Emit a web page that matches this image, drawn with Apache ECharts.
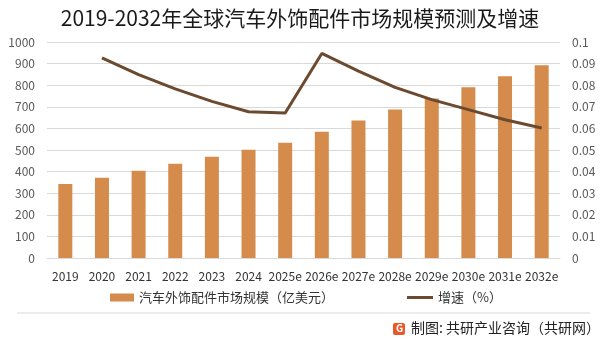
<!DOCTYPE html>
<html><head><meta charset="utf-8">
<script src="https://cdn.jsdelivr.net/npm/echarts@6/dist/echarts.min.js"></script>
<style>html,body{margin:0;padding:0;background:#fff}#c{width:600px;height:347px}</style>
</head><body><div id="c"></div>
<script>
const categories = ['2019','2020','2021','2022','2023','2024','2025e','2026e','2027e','2028e','2029e','2030e','2031e','2032e'];
const marketSize = [343, 371, 404, 436, 469, 501, 534, 585, 636, 687, 738, 790, 841, 892];
const growthRate = [null, 0.0927, 0.0849, 0.0783, 0.0725, 0.0677, 0.0671, 0.0947, 0.0865, 0.0790, 0.0733, 0.0687, 0.0640, 0.0602];
const barName = '汽车外饰配件市场规模（亿美元）';
const lineName = '增速（%）';
const titleText = '2019-2032年全球汽车外饰配件市场规模预测及增速';
const sourceText = '制图: 共研产业咨询（共研网）';

const FONT = '"Noto Sans CJK SC", "Noto Sans", sans-serif';
const chart = echarts.init(document.getElementById('c'), null, {renderer: 'canvas'});
const legendText = {fontFamily: FONT, fontSize: 13, color: '#333'};
chart.setOption({
  animation: false,
  backgroundColor: '#fff',
  title: {
    text: titleText, left: 'center', top: 3,
    textStyle: {fontFamily: FONT, fontSize: 21, fontWeight: 'normal', color: '#1a1a1a'}
  },
  legend: [{
    left: 110, top: 291, padding: 0, itemWidth: 24, itemHeight: 8, itemGap: 0,
    textStyle: legendText,
    data: [{name: barName, icon: 'rect'}]
  }, {
    left: 407, top: 291, padding: 0, itemWidth: 26, itemHeight: 8, itemGap: 0,
    textStyle: legendText,
    data: [{name: lineName, icon: 'path://M0,0H26V3H0Z'}]
  }],
  grid: {left: 47, right: 40, top: 42, bottom: 89, containLabel: false},
  xAxis: {
    type: 'category', data: categories,
    axisLine: {lineStyle: {color: '#d9d9d9'}},
    axisTick: {show: false},
    axisLabel: {fontFamily: FONT, fontSize: 12, color: '#333', margin: 12, interval: 0}
  },
  yAxis: [{
    type: 'value', min: 0, max: 1000, interval: 100,
    axisLine: {show: false}, axisTick: {show: false},
    splitLine: {lineStyle: {color: '#d9d9d9'}},
    axisLabel: {fontFamily: FONT, fontSize: 12, color: '#595959', margin: 12,
      formatter: v => String(v)}
  }, {
    type: 'value', min: 0, max: 0.1, interval: 0.01,
    axisLine: {show: false}, axisTick: {show: false}, splitLine: {show: false},
    axisLabel: {fontFamily: FONT, fontSize: 12, color: '#595959', margin: 12,
      formatter: v => String(+v.toFixed(2))}
  }],
  series: [{
    name: barName, type: 'bar', data: marketSize, barWidth: 14,
    itemStyle: {color: '#d48b4c'}
  }, {
    name: lineName, type: 'line', yAxisIndex: 1, data: growthRate,
    symbol: 'none', smooth: false,
    lineStyle: {color: '#6b4a2f', width: 3},
    itemStyle: {color: '#6b4a2f'}
  }],
  graphic: [
    {type: 'line', shape: {x1: 17, y1: 313, x2: 590, y2: 313}, style: {stroke: '#d9d9d9', lineWidth: 1}},
    {type: 'rect', shape: {x: 393, y: 323, width: 12, height: 12, r: 2}, style: {fill: '#e8582a'}},
    {type: 'text', style: {x: 396, y: 323.5, text: 'G', fill: '#fff', font: 'bold 10px ' + FONT}},
    {type: 'text', style: {x: 411, y: 321, text: sourceText, fill: '#222', font: '14px ' + FONT}}
  ]
});
</script>
</body></html>
